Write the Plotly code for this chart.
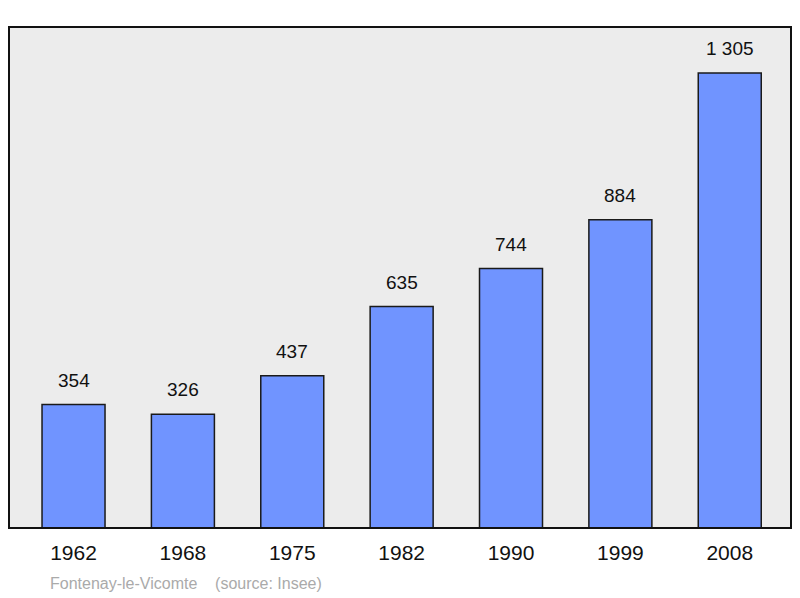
import plotly.graph_objects as go

years = ["1962", "1968", "1975", "1982", "1990", "1999", "2008"]
population = [354, 326, 437, 635, 744, 884, 1305]
labels = ["354", "326", "437", "635", "744", "884", "1 305"]

xs = list(range(len(years)))
fig = go.Figure(go.Bar(
    x=xs, y=population, width=0.576,
    marker=dict(color="#7094ff", line=dict(color="#1a1a1a", width=1.5)),
    hoverinfo="skip"))

for x, y, t in zip(xs, population, labels):
    fig.add_annotation(x=x, y=y, text=t, showarrow=False, yanchor="bottom",
                       yshift=12, font=dict(size=19, color="#111", family="Liberation Sans"))

fig.add_shape(type="rect", xref="paper", yref="paper", x0=0, y0=0, x1=1, y1=1,
              line=dict(color="#111", width=2))
fig.add_annotation(xref="paper", yref="paper", x=0.05, y=-0.11, xanchor="left", yanchor="middle",
                   text="Fontenay-le-Vicomte &nbsp;&nbsp;&nbsp;(source: Insee)", showarrow=False,
                   font=dict(size=16, color="#aaaaaa", family="Liberation Sans"))

fig.update_layout(
    width=800, height=598, margin=dict(l=1, r=17, t=19, b=78),
    paper_bgcolor="white", plot_bgcolor="#ececec", showlegend=False,
    xaxis=dict(range=[-0.59, 6.56], tickvals=xs, ticktext=years, showgrid=False,
               zeroline=False, ticks="", ticklabelstandoff=10,
               tickfont=dict(size=21, color="#111", family="Liberation Sans")),
    yaxis=dict(range=[0, 1437], visible=False),
)
fig.write_html("out.html")
